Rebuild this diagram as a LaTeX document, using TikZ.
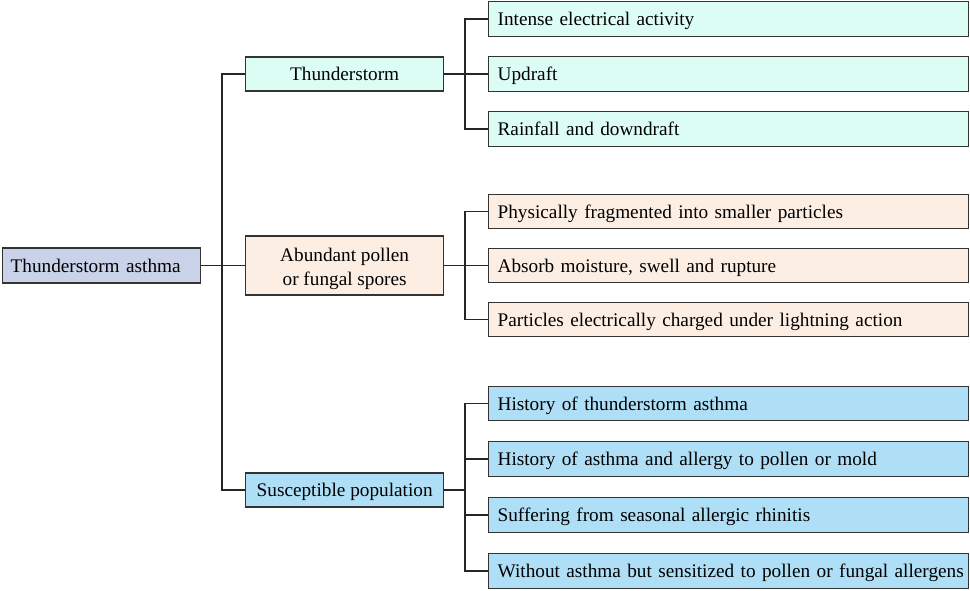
\documentclass[tikz,border=0pt]{standalone}
\usepackage{fontspec}
\setmainfont{Liberation Serif}
\definecolor{rootc}{HTML}{C9D2E8}
\definecolor{thc}{HTML}{DCFDF4}
\definecolor{poc}{HTML}{FDEEE3}
\definecolor{suc}{HTML}{AEDFF6}
\definecolor{edgec}{HTML}{333333}
\tikzset{
  txt/.style={font=\fontsize{19.25}{24}\selectfont},
  box/.style={draw=edgec, line width=1.3pt, inner sep=0pt, txt, text height=16pt, text depth=3pt},
  rootbox/.style={box, fill=rootc, minimum width=198pt, minimum height=35pt, anchor=west, align=left, text width=190pt, execute at begin node=\hspace*{4pt}},
  midbox/.style={box, minimum width=198pt, minimum height=34pt, anchor=west, align=center},
  leafbox/.style={box, minimum width=480pt, minimum height=34.5pt, anchor=west, align=left, text width=471pt, execute at begin node=\hspace*{4.5pt}},
  link/.style={draw=black!85, line width=1.4pt}
}
\begin{document}
\begin{tikzpicture}[x=1pt,y=-1pt]
\useasboundingbox (0,0) rectangle (970,590);
% root
\node[rootbox] (root) at (2,265.5) {Thunderstorm asthma};
% level 1
\node[midbox, fill=thc] (th) at (245,74) {Thunderstorm};
\node[midbox, fill=poc, minimum height=59pt] (po) at (245,265.5) {};
\node[txt, align=center, inner sep=0pt] (potext) at ([yshift=-3pt]po.center) {Abundant pollen\\or fungal spores};
\node[midbox, fill=suc] (su) at (245,490) {Susceptible population};
% leaves
\node[leafbox, fill=thc] (t1) at (488,19) {Intense electrical activity};
\node[leafbox, fill=thc] (t2) at (488,74) {Updraft};
\node[leafbox, fill=thc] (t3) at (488,129) {Rainfall and downdraft};
\node[leafbox, fill=poc] (p1) at (488,211.5) {Physically fragmented into smaller particles};
\node[leafbox, fill=poc] (p2) at (488,265.5) {Absorb moisture, swell and rupture};
\node[leafbox, fill=poc] (p3) at (488,319.5) {Particles electrically charged under lightning action};
\node[leafbox, fill=suc] (s1) at (488,403.5) {History of thunderstorm asthma};
\node[leafbox, fill=suc] (s2) at (488,459) {History of asthma and allergy to pollen or mold};
\node[leafbox, fill=suc] (s3) at (488,515) {Suffering from seasonal allergic rhinitis};
\node[leafbox, fill=suc] (s4) at (488,571) {Without asthma but sensitized to pollen or fungal allergens};
% connectors
\coordinate (b0) at (222,0);
\coordinate (b1) at (465,0);
\draw[link] (root.east) -- (po.west);
\draw[link] (th.west) -- (th.west -| b0) -- (su.west -| b0) -- (su.west);
\draw[link] (th.east) -- (t2.west);
\draw[link] (t1.west) -- (t1.west -| b1) -- (t3.west -| b1) -- (t3.west);
\draw[link] (po.east) -- (p2.west);
\draw[link] (p1.west) -- (p1.west -| b1) -- (p3.west -| b1) -- (p3.west);
\draw[link] (su.east) -- (su.east -| b1);
\draw[link] (s1.west) -- (s1.west -| b1) -- (s4.west -| b1) -- (s4.west);
\draw[link] (s2.west) -- (s2.west -| b1);
\draw[link] (s3.west) -- (s3.west -| b1);
\end{tikzpicture}
\end{document}
